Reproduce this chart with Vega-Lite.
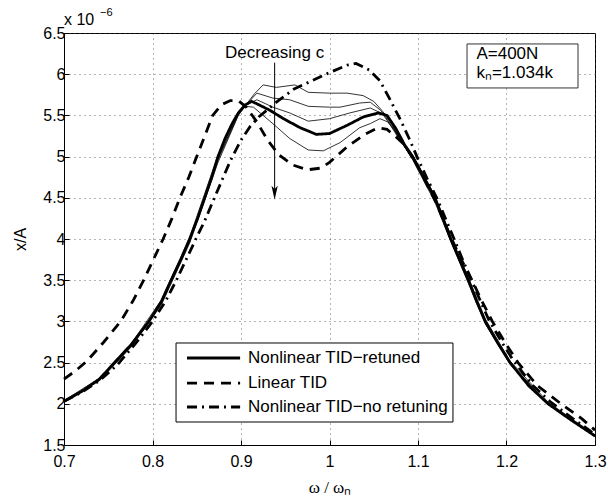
{
  "$schema": "https://vega.github.io/schema/vega-lite/v6.json",
  "width": 531,
  "height": 412,
  "autosize": {"type": "none"},
  "padding": {"left": 64, "top": 33, "right": 13, "bottom": 55},
  "background": "white",
  "config": {
    "font": "Liberation Sans",
    "view": {"stroke": "black", "strokeWidth": 1},
    "axis": {
      "labelFont": "Liberation Sans", "labelFontSize": 16, "labelColor": "#000",
      "titleFont": "Liberation Sans", "titleFontSize": 16, "titleFontWeight": "normal", "titleColor": "#000",
      "domainColor": "#000", "tickColor": "#000", "tickSize": -5,
      "gridColor": "#444", "gridDash": [1, 4], "gridWidth": 0.8, "gridOpacity": 1
    }
  },
  "datasets": {
    "main": [
      {"s": "Nonlinear TID−retuned", "w": 0.70, "v": 2.03},
      {"s": "Nonlinear TID−retuned", "w": 0.72, "v": 2.15},
      {"s": "Nonlinear TID−retuned", "w": 0.74, "v": 2.30},
      {"s": "Nonlinear TID−retuned", "w": 0.757, "v": 2.50},
      {"s": "Nonlinear TID−retuned", "w": 0.776, "v": 2.72},
      {"s": "Nonlinear TID−retuned", "w": 0.796, "v": 3.00},
      {"s": "Nonlinear TID−retuned", "w": 0.81, "v": 3.24},
      {"s": "Nonlinear TID−retuned", "w": 0.821, "v": 3.50},
      {"s": "Nonlinear TID−retuned", "w": 0.832, "v": 3.75},
      {"s": "Nonlinear TID−retuned", "w": 0.842, "v": 4.00},
      {"s": "Nonlinear TID−retuned", "w": 0.851, "v": 4.25},
      {"s": "Nonlinear TID−retuned", "w": 0.859, "v": 4.50},
      {"s": "Nonlinear TID−retuned", "w": 0.867, "v": 4.75},
      {"s": "Nonlinear TID−retuned", "w": 0.874, "v": 5.00},
      {"s": "Nonlinear TID−retuned", "w": 0.882, "v": 5.22},
      {"s": "Nonlinear TID−retuned", "w": 0.89, "v": 5.40},
      {"s": "Nonlinear TID−retuned", "w": 0.897, "v": 5.53},
      {"s": "Nonlinear TID−retuned", "w": 0.905, "v": 5.63},
      {"s": "Nonlinear TID−retuned", "w": 0.912, "v": 5.67},
      {"s": "Nonlinear TID−retuned", "w": 0.92, "v": 5.63},
      {"s": "Nonlinear TID−retuned", "w": 0.933, "v": 5.56},
      {"s": "Nonlinear TID−retuned", "w": 0.948, "v": 5.46},
      {"s": "Nonlinear TID−retuned", "w": 0.967, "v": 5.35},
      {"s": "Nonlinear TID−retuned", "w": 0.985, "v": 5.27},
      {"s": "Nonlinear TID−retuned", "w": 1.0, "v": 5.28},
      {"s": "Nonlinear TID−retuned", "w": 1.02, "v": 5.38},
      {"s": "Nonlinear TID−retuned", "w": 1.038, "v": 5.48},
      {"s": "Nonlinear TID−retuned", "w": 1.055, "v": 5.53},
      {"s": "Nonlinear TID−retuned", "w": 1.065, "v": 5.50},
      {"s": "Nonlinear TID−retuned", "w": 1.075, "v": 5.34},
      {"s": "Nonlinear TID−retuned", "w": 1.085, "v": 5.14},
      {"s": "Nonlinear TID−retuned", "w": 1.094, "v": 5.00},
      {"s": "Nonlinear TID−retuned", "w": 1.105, "v": 4.78},
      {"s": "Nonlinear TID−retuned", "w": 1.119, "v": 4.50},
      {"s": "Nonlinear TID−retuned", "w": 1.128, "v": 4.26},
      {"s": "Nonlinear TID−retuned", "w": 1.137, "v": 4.00},
      {"s": "Nonlinear TID−retuned", "w": 1.147, "v": 3.75},
      {"s": "Nonlinear TID−retuned", "w": 1.157, "v": 3.50},
      {"s": "Nonlinear TID−retuned", "w": 1.166, "v": 3.25},
      {"s": "Nonlinear TID−retuned", "w": 1.176, "v": 3.00},
      {"s": "Nonlinear TID−retuned", "w": 1.19, "v": 2.74},
      {"s": "Nonlinear TID−retuned", "w": 1.204, "v": 2.50},
      {"s": "Nonlinear TID−retuned", "w": 1.225, "v": 2.22},
      {"s": "Nonlinear TID−retuned", "w": 1.247, "v": 2.00},
      {"s": "Nonlinear TID−retuned", "w": 1.272, "v": 1.81},
      {"s": "Nonlinear TID−retuned", "w": 1.30, "v": 1.61},

      {"s": "Linear TID", "w": 0.70, "v": 2.30},
      {"s": "Linear TID", "w": 0.713, "v": 2.40},
      {"s": "Linear TID", "w": 0.726, "v": 2.52},
      {"s": "Linear TID", "w": 0.745, "v": 2.75},
      {"s": "Linear TID", "w": 0.764, "v": 3.00},
      {"s": "Linear TID", "w": 0.778, "v": 3.25},
      {"s": "Linear TID", "w": 0.79, "v": 3.50},
      {"s": "Linear TID", "w": 0.801, "v": 3.75},
      {"s": "Linear TID", "w": 0.812, "v": 4.00},
      {"s": "Linear TID", "w": 0.822, "v": 4.25},
      {"s": "Linear TID", "w": 0.831, "v": 4.50},
      {"s": "Linear TID", "w": 0.841, "v": 4.75},
      {"s": "Linear TID", "w": 0.85, "v": 5.00},
      {"s": "Linear TID", "w": 0.859, "v": 5.25},
      {"s": "Linear TID", "w": 0.868, "v": 5.50},
      {"s": "Linear TID", "w": 0.878, "v": 5.63},
      {"s": "Linear TID", "w": 0.888, "v": 5.68},
      {"s": "Linear TID", "w": 0.897, "v": 5.68},
      {"s": "Linear TID", "w": 0.906, "v": 5.60},
      {"s": "Linear TID", "w": 0.918, "v": 5.42},
      {"s": "Linear TID", "w": 0.93, "v": 5.20},
      {"s": "Linear TID", "w": 0.943, "v": 5.02},
      {"s": "Linear TID", "w": 0.958, "v": 4.90},
      {"s": "Linear TID", "w": 0.975, "v": 4.84},
      {"s": "Linear TID", "w": 0.99, "v": 4.86},
      {"s": "Linear TID", "w": 1.0, "v": 4.93},
      {"s": "Linear TID", "w": 1.02, "v": 5.12},
      {"s": "Linear TID", "w": 1.04, "v": 5.27},
      {"s": "Linear TID", "w": 1.055, "v": 5.35},
      {"s": "Linear TID", "w": 1.065, "v": 5.33},
      {"s": "Linear TID", "w": 1.075, "v": 5.24},
      {"s": "Linear TID", "w": 1.085, "v": 5.14},
      {"s": "Linear TID", "w": 1.1, "v": 4.88},
      {"s": "Linear TID", "w": 1.12, "v": 4.45},
      {"s": "Linear TID", "w": 1.138, "v": 4.00},
      {"s": "Linear TID", "w": 1.149, "v": 3.75},
      {"s": "Linear TID", "w": 1.161, "v": 3.50},
      {"s": "Linear TID", "w": 1.172, "v": 3.25},
      {"s": "Linear TID", "w": 1.184, "v": 3.00},
      {"s": "Linear TID", "w": 1.198, "v": 2.75},
      {"s": "Linear TID", "w": 1.213, "v": 2.50},
      {"s": "Linear TID", "w": 1.235, "v": 2.22},
      {"s": "Linear TID", "w": 1.264, "v": 1.98},
      {"s": "Linear TID", "w": 1.285, "v": 1.82},
      {"s": "Linear TID", "w": 1.30, "v": 1.68},

      {"s": "Nonlinear TID−no retuning", "w": 0.70, "v": 2.03},
      {"s": "Nonlinear TID−no retuning", "w": 0.72, "v": 2.14},
      {"s": "Nonlinear TID−no retuning", "w": 0.74, "v": 2.28},
      {"s": "Nonlinear TID−no retuning", "w": 0.76, "v": 2.47},
      {"s": "Nonlinear TID−no retuning", "w": 0.78, "v": 2.72},
      {"s": "Nonlinear TID−no retuning", "w": 0.80, "v": 3.00},
      {"s": "Nonlinear TID−no retuning", "w": 0.815, "v": 3.25},
      {"s": "Nonlinear TID−no retuning", "w": 0.827, "v": 3.50},
      {"s": "Nonlinear TID−no retuning", "w": 0.838, "v": 3.75},
      {"s": "Nonlinear TID−no retuning", "w": 0.849, "v": 4.00},
      {"s": "Nonlinear TID−no retuning", "w": 0.859, "v": 4.22},
      {"s": "Nonlinear TID−no retuning", "w": 0.868, "v": 4.45},
      {"s": "Nonlinear TID−no retuning", "w": 0.878, "v": 4.70},
      {"s": "Nonlinear TID−no retuning", "w": 0.888, "v": 4.95},
      {"s": "Nonlinear TID−no retuning", "w": 0.90, "v": 5.20},
      {"s": "Nonlinear TID−no retuning", "w": 0.91, "v": 5.36},
      {"s": "Nonlinear TID−no retuning", "w": 0.92, "v": 5.48},
      {"s": "Nonlinear TID−no retuning", "w": 0.94, "v": 5.66},
      {"s": "Nonlinear TID−no retuning", "w": 0.96, "v": 5.82},
      {"s": "Nonlinear TID−no retuning", "w": 0.98, "v": 5.92},
      {"s": "Nonlinear TID−no retuning", "w": 1.0, "v": 6.02},
      {"s": "Nonlinear TID−no retuning", "w": 1.02, "v": 6.11},
      {"s": "Nonlinear TID−no retuning", "w": 1.03, "v": 6.13},
      {"s": "Nonlinear TID−no retuning", "w": 1.045, "v": 6.05},
      {"s": "Nonlinear TID−no retuning", "w": 1.057, "v": 5.92},
      {"s": "Nonlinear TID−no retuning", "w": 1.068, "v": 5.70},
      {"s": "Nonlinear TID−no retuning", "w": 1.08, "v": 5.45},
      {"s": "Nonlinear TID−no retuning", "w": 1.09, "v": 5.22},
      {"s": "Nonlinear TID−no retuning", "w": 1.10, "v": 4.97},
      {"s": "Nonlinear TID−no retuning", "w": 1.11, "v": 4.74},
      {"s": "Nonlinear TID−no retuning", "w": 1.122, "v": 4.48},
      {"s": "Nonlinear TID−no retuning", "w": 1.14, "v": 4.02},
      {"s": "Nonlinear TID−no retuning", "w": 1.15, "v": 3.76},
      {"s": "Nonlinear TID−no retuning", "w": 1.16, "v": 3.51},
      {"s": "Nonlinear TID−no retuning", "w": 1.17, "v": 3.26},
      {"s": "Nonlinear TID−no retuning", "w": 1.18, "v": 3.02},
      {"s": "Nonlinear TID−no retuning", "w": 1.194, "v": 2.76},
      {"s": "Nonlinear TID−no retuning", "w": 1.208, "v": 2.52},
      {"s": "Nonlinear TID−no retuning", "w": 1.23, "v": 2.22},
      {"s": "Nonlinear TID−no retuning", "w": 1.25, "v": 2.02},
      {"s": "Nonlinear TID−no retuning", "w": 1.275, "v": 1.82},
      {"s": "Nonlinear TID−no retuning", "w": 1.30, "v": 1.63}
    ],
    "thin": [
      {"c": "c1", "w": 0.70, "v": 2.02}, {"c": "c1", "w": 0.74, "v": 2.28}, {"c": "c1", "w": 0.776, "v": 2.69},
      {"c": "c1", "w": 0.81, "v": 3.20}, {"c": "c1", "w": 0.842, "v": 3.95}, {"c": "c1", "w": 0.874, "v": 4.93},
      {"c": "c1", "w": 0.897, "v": 5.50}, {"c": "c1", "w": 0.905, "v": 5.62}, {"c": "c1", "w": 0.915, "v": 5.76},
      {"c": "c1", "w": 0.925, "v": 5.87}, {"c": "c1", "w": 0.94, "v": 5.84}, {"c": "c1", "w": 0.961, "v": 5.87},
      {"c": "c1", "w": 0.976, "v": 5.78}, {"c": "c1", "w": 1.0, "v": 5.77}, {"c": "c1", "w": 1.02, "v": 5.77},
      {"c": "c1", "w": 1.038, "v": 5.74}, {"c": "c1", "w": 1.05, "v": 5.67}, {"c": "c1", "w": 1.06, "v": 5.55},
      {"c": "c1", "w": 1.07, "v": 5.40}, {"c": "c1", "w": 1.08, "v": 5.20}, {"c": "c1", "w": 1.094, "v": 4.96},
      {"c": "c1", "w": 1.119, "v": 4.45}, {"c": "c1", "w": 1.137, "v": 3.97}, {"c": "c1", "w": 1.157, "v": 3.46},
      {"c": "c1", "w": 1.176, "v": 2.97}, {"c": "c1", "w": 1.204, "v": 2.48}, {"c": "c1", "w": 1.247, "v": 1.99},
      {"c": "c1", "w": 1.30, "v": 1.60},

      {"c": "c2", "w": 0.70, "v": 2.03}, {"c": "c2", "w": 0.74, "v": 2.29}, {"c": "c2", "w": 0.776, "v": 2.70},
      {"c": "c2", "w": 0.81, "v": 3.22}, {"c": "c2", "w": 0.842, "v": 3.97}, {"c": "c2", "w": 0.874, "v": 4.96},
      {"c": "c2", "w": 0.897, "v": 5.51}, {"c": "c2", "w": 0.905, "v": 5.62}, {"c": "c2", "w": 0.918, "v": 5.77},
      {"c": "c2", "w": 0.936, "v": 5.71}, {"c": "c2", "w": 0.955, "v": 5.69}, {"c": "c2", "w": 0.976, "v": 5.61},
      {"c": "c2", "w": 1.0, "v": 5.60}, {"c": "c2", "w": 1.012, "v": 5.60}, {"c": "c2", "w": 1.034, "v": 5.65},
      {"c": "c2", "w": 1.046, "v": 5.66}, {"c": "c2", "w": 1.058, "v": 5.56}, {"c": "c2", "w": 1.07, "v": 5.38},
      {"c": "c2", "w": 1.08, "v": 5.20}, {"c": "c2", "w": 1.094, "v": 4.97}, {"c": "c2", "w": 1.119, "v": 4.47},
      {"c": "c2", "w": 1.137, "v": 3.98}, {"c": "c2", "w": 1.157, "v": 3.48}, {"c": "c2", "w": 1.176, "v": 2.98},
      {"c": "c2", "w": 1.204, "v": 2.49}, {"c": "c2", "w": 1.247, "v": 2.00}, {"c": "c2", "w": 1.30, "v": 1.61},

      {"c": "c3", "w": 0.70, "v": 2.02}, {"c": "c3", "w": 0.74, "v": 2.29}, {"c": "c3", "w": 0.776, "v": 2.71},
      {"c": "c3", "w": 0.81, "v": 3.23}, {"c": "c3", "w": 0.842, "v": 3.98}, {"c": "c3", "w": 0.874, "v": 4.98},
      {"c": "c3", "w": 0.897, "v": 5.52}, {"c": "c3", "w": 0.905, "v": 5.62}, {"c": "c3", "w": 0.918, "v": 5.69},
      {"c": "c3", "w": 0.936, "v": 5.60}, {"c": "c3", "w": 0.955, "v": 5.53}, {"c": "c3", "w": 0.976, "v": 5.43},
      {"c": "c3", "w": 1.0, "v": 5.46}, {"c": "c3", "w": 1.023, "v": 5.53}, {"c": "c3", "w": 1.046, "v": 5.59},
      {"c": "c3", "w": 1.06, "v": 5.52}, {"c": "c3", "w": 1.07, "v": 5.36}, {"c": "c3", "w": 1.08, "v": 5.19},
      {"c": "c3", "w": 1.094, "v": 4.98}, {"c": "c3", "w": 1.119, "v": 4.48}, {"c": "c3", "w": 1.137, "v": 3.99},
      {"c": "c3", "w": 1.157, "v": 3.49}, {"c": "c3", "w": 1.176, "v": 2.99}, {"c": "c3", "w": 1.204, "v": 2.50},
      {"c": "c3", "w": 1.247, "v": 2.00}, {"c": "c3", "w": 1.30, "v": 1.61},

      {"c": "c4", "w": 0.70, "v": 2.04}, {"c": "c4", "w": 0.74, "v": 2.31}, {"c": "c4", "w": 0.776, "v": 2.73},
      {"c": "c4", "w": 0.81, "v": 3.26}, {"c": "c4", "w": 0.842, "v": 4.02}, {"c": "c4", "w": 0.874, "v": 5.02},
      {"c": "c4", "w": 0.897, "v": 5.54}, {"c": "c4", "w": 0.905, "v": 5.61}, {"c": "c4", "w": 0.914, "v": 5.60},
      {"c": "c4", "w": 0.936, "v": 5.40}, {"c": "c4", "w": 0.955, "v": 5.22}, {"c": "c4", "w": 0.976, "v": 5.08},
      {"c": "c4", "w": 0.993, "v": 5.07}, {"c": "c4", "w": 1.012, "v": 5.17}, {"c": "c4", "w": 1.034, "v": 5.35},
      {"c": "c4", "w": 1.046, "v": 5.40}, {"c": "c4", "w": 1.057, "v": 5.46}, {"c": "c4", "w": 1.066, "v": 5.42},
      {"c": "c4", "w": 1.075, "v": 5.30}, {"c": "c4", "w": 1.085, "v": 5.12}, {"c": "c4", "w": 1.094, "v": 5.01},
      {"c": "c4", "w": 1.119, "v": 4.53}, {"c": "c4", "w": 1.137, "v": 4.03}, {"c": "c4", "w": 1.157, "v": 3.53},
      {"c": "c4", "w": 1.176, "v": 3.03}, {"c": "c4", "w": 1.204, "v": 2.52}, {"c": "c4", "w": 1.247, "v": 2.02},
      {"c": "c4", "w": 1.30, "v": 1.62}
    ],
    "legbox": [{"w": 0.8266, "w2": 1.1395, "v": 2.738, "v2": 1.779}],
    "legrows": [
      {"s": "Nonlinear TID−retuned", "w": 0.839, "w2": 0.899, "wt": 0.908, "v": 2.556},
      {"s": "Linear TID", "w": 0.839, "w2": 0.899, "wt": 0.908, "v": 2.252},
      {"s": "Nonlinear TID−no retuning", "w": 0.839, "w2": 0.899, "wt": 0.908, "v": 1.961}
    ],
    "arrow": [{"w": 0.938, "v": 6.14, "v2": 4.56}],
    "head": [{"w": 0.938, "v": 4.56}],
    "label": [{"w": 0.938, "v": 6.26, "t": "Decreasing c"}],
    "box": [{"w": 1.1554, "w2": 1.2808, "v": 6.367, "v2": 5.833}],
    "boxtext": [{"w": 1.166, "v": 6.25, "t": "A=400N"}, {"w": 1.166, "v": 6.02, "t": "kₙ=1.034k"}],
    "exp": [{"w": 0.7, "v": 6.5, "t": "x 10"}],
    "exp2": [{"w": 0.7, "v": 6.5, "t": "−6"}]
  },
  "layer": [
    {
      "data": {"name": "thin"},
      "mark": {"type": "line", "color": "black", "strokeWidth": 0.8},
      "encoding": {
        "x": {
          "field": "w", "type": "quantitative",
          "scale": {"domain": [0.7, 1.3], "nice": false, "zero": false},
          "axis": {"values": [0.7, 0.8, 0.9, 1.0, 1.1, 1.2, 1.3], "format": "~g", "grid": true, "labelPadding": 13, "title": "ω /  ωₙ", "titleFont": "Liberation Serif", "titleFontSize": 17, "titlePadding": 10, "labelFlush": false}
        },
        "y": {
          "field": "v", "type": "quantitative",
          "scale": {"domain": [1.5, 6.5], "nice": false, "zero": false},
          "axis": {"values": [1.5, 2, 2.5, 3, 3.5, 4, 4.5, 5, 5.5, 6, 6.5], "format": "~g", "grid": true, "labelPadding": 4, "title": "x/A", "titlePadding": 14, "labelFlush": false}
        },
        "detail": {"field": "c"}
      }
    },
    {
      "data": {"name": "main"},
      "mark": {"type": "line", "color": "black", "strokeWidth": 2.8},
      "encoding": {
        "x": {"field": "w", "type": "quantitative"},
        "y": {"field": "v", "type": "quantitative"},
        "strokeDash": {
          "field": "s", "type": "nominal",
          "scale": {"domain": ["Nonlinear TID−retuned", "Linear TID", "Nonlinear TID−no retuning"], "range": [[1, 0], [10, 7], [10, 5, 2, 5]]},
          "legend": null
        }
      }
    },
    {
      "data": {"name": "legbox"},
      "mark": {"type": "rect", "fill": "white", "stroke": "black", "strokeWidth": 1},
      "encoding": {
        "x": {"field": "w", "type": "quantitative"},
        "x2": {"field": "w2"},
        "y": {"field": "v", "type": "quantitative"},
        "y2": {"field": "v2"}
      }
    },
    {
      "data": {"name": "legrows"},
      "mark": {"type": "rule", "color": "black", "strokeWidth": 2.8},
      "encoding": {
        "x": {"field": "w", "type": "quantitative"},
        "x2": {"field": "w2"},
        "y": {"field": "v", "type": "quantitative"},
        "strokeDash": {"field": "s", "type": "nominal", "legend": null}
      }
    },
    {
      "data": {"name": "legrows"},
      "mark": {"type": "text", "fontSize": 17, "font": "Liberation Sans", "align": "left", "baseline": "middle", "color": "black"},
      "encoding": {
        "x": {"field": "wt", "type": "quantitative"},
        "y": {"field": "v", "type": "quantitative"},
        "text": {"field": "s"}
      }
    },
    {
      "data": {"name": "arrow"},
      "mark": {"type": "rule", "color": "black", "strokeWidth": 1},
      "encoding": {
        "x": {"field": "w", "type": "quantitative"},
        "y": {"field": "v", "type": "quantitative"},
        "y2": {"field": "v2"}
      }
    },
    {
      "data": {"name": "head"},
      "mark": {"type": "point", "shape": "M0,1L-0.45,-1L0,-0.55L0.45,-1Z", "filled": true, "color": "black", "size": 196, "opacity": 1},
      "encoding": {
        "x": {"field": "w", "type": "quantitative"},
        "y": {"field": "v", "type": "quantitative"}
      }
    },
    {
      "data": {"name": "label"},
      "mark": {"type": "text", "fontSize": 17, "font": "Liberation Sans", "align": "center", "baseline": "middle", "color": "black"},
      "encoding": {
        "x": {"field": "w", "type": "quantitative"},
        "y": {"field": "v", "type": "quantitative"},
        "text": {"field": "t"}
      }
    },
    {
      "data": {"name": "box"},
      "mark": {"type": "rect", "fill": "white", "stroke": "#333", "strokeWidth": 1},
      "encoding": {
        "x": {"field": "w", "type": "quantitative"},
        "x2": {"field": "w2"},
        "y": {"field": "v", "type": "quantitative"},
        "y2": {"field": "v2"}
      }
    },
    {
      "data": {"name": "boxtext"},
      "mark": {"type": "text", "fontSize": 17, "font": "Liberation Sans", "align": "left", "baseline": "middle", "color": "black"},
      "encoding": {
        "x": {"field": "w", "type": "quantitative"},
        "y": {"field": "v", "type": "quantitative"},
        "text": {"field": "t"}
      }
    },
    {
      "data": {"name": "exp"},
      "mark": {"type": "text", "fontSize": 16, "font": "Liberation Sans", "align": "left", "baseline": "bottom", "dy": -5, "color": "black"},
      "encoding": {
        "x": {"field": "w", "type": "quantitative"},
        "y": {"field": "v", "type": "quantitative"},
        "text": {"field": "t"}
      }
    },
    {
      "data": {"name": "exp2"},
      "mark": {"type": "text", "fontSize": 11, "font": "Liberation Sans", "align": "left", "baseline": "bottom", "dx": 36, "dy": -15, "color": "black"},
      "encoding": {
        "x": {"field": "w", "type": "quantitative"},
        "y": {"field": "v", "type": "quantitative"},
        "text": {"field": "t"}
      }
    }
  ]
}
